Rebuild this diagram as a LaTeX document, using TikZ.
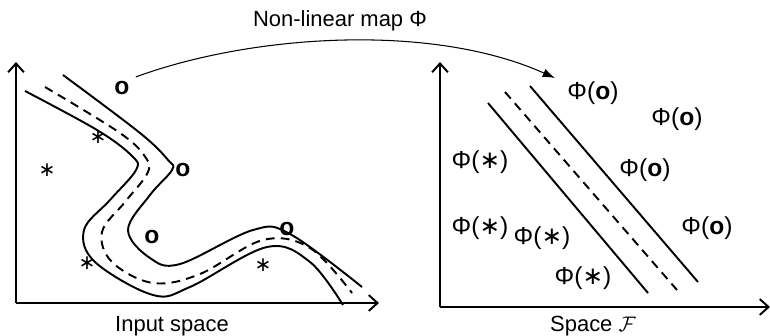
\documentclass[tikz,border=0pt]{standalone}
\usepackage{fontspec}
\setmainfont{Liberation Sans}
\newfontfamily\symfont{DejaVu Sans}
\usetikzlibrary{arrows.meta}
\tikzset{
  axis/.style={line width=1.1pt, -{Straight Barb[length=5pt, width=9pt]}},
  bound/.style={line width=1.1pt},
  margin/.style={line width=1.1pt, dashed, dash pattern=on 5pt off 3.5pt},
  lbl/.style={font=\fontsize{12.5}{14}\selectfont, inner sep=0pt},
  pt/.style={font=\fontsize{14}{15}\selectfont, inner sep=0pt},
  ptneg/.style={font=\fontsize{11.5}{13}\selectfont, inner sep=0pt}
}
\newcommand{\clspos}{\textbf{o}}
\newcommand{\clsneg}{{\symfont ∗}}
\begin{document}
\begin{tikzpicture}[x=0.02cm, y=-0.02cm]
                \useasboundingbox (0,0) rectangle (770,335);

                % input space
                \draw[axis] (16,303) -- (16,62);
                \draw[axis] (16,303) -- (379,303);
                \draw[bound] plot[smooth, tension=0.6] coordinates {(25,91) (97,130) (132,156) (136,170)
                  (110,200) (84,230) (95,262) (153,295) (190,287) (267,247) (310,262) (343,305)};
                \draw[margin] plot[smooth, tension=0.6] coordinates {(45,87) (120,133) (146,158) (147,174)
                  (125,202) (102,232) (112,262) (153,283) (200,274) (263,240) (310,248) (352,293)};
                \draw[bound] plot[smooth, tension=0.6] coordinates {(63,75) (140,133) (168,160) (172,170)
                  (150,195) (128,230) (150,258) (180,264) (253,230) (290,234) (362,287)};

                % training points
                \node[pt] (o1) at (122,88) {\clspos};
                \node[pt] (o2) at (183,170) {\clspos};
                \node[pt] (o3) at (152,237) {\clspos};
                \node[pt] (o4) at (287,229) {\clspos};
                \node[ptneg] (s1) at (98,137) {\clsneg};
                \node[ptneg] (s2) at (47,170) {\clsneg};
                \node[ptneg] (s3) at (87,263) {\clsneg};
                \node[ptneg] (s4) at (263,265) {\clsneg};
                \node[lbl] (input) at (172,326) {Input space};

                % feature space
                \draw[axis] (440,307) -- (440,62);
                \draw[axis] (440,307) -- (770,307);
                \draw[bound] (488,103) -- (648,293);
                \draw[margin] (505,92) -- (677,290);
                \draw[bound] (530,86) -- (698,282);
                \node[pt] (fo1) at (593,93) {Φ(\clspos)};
                \node[pt] (fo2) at (677,119) {Φ(\clspos)};
                \node[pt] (fo3) at (645,170) {Φ(\clspos)};
                \node[pt] (fo4) at (707,228) {Φ(\clspos)};
                \node[pt] (fs1) at (480,162) {Φ(\clsneg)};
                \node[pt] (fs2) at (480,228) {Φ(\clsneg)};
                \node[pt] (fs3) at (542,238) {Φ(\clsneg)};
                \node[pt] (fs4) at (583,278) {Φ(\clsneg)};
                \node[lbl] (feature) at (593,326) {Space $\mathcal{F}$};

                % the map
                \coordinate (tip) at (555,78);
                \draw[line width=0.6pt, -{Latex[length=7pt, width=5pt]}] (o1.north east) ++(6,-4)
                  .. controls (250,35) and (430,22) .. (tip);
                \node[lbl] (map) at (340,21) {Non-linear map Φ};
            \end{tikzpicture}
\end{document}
